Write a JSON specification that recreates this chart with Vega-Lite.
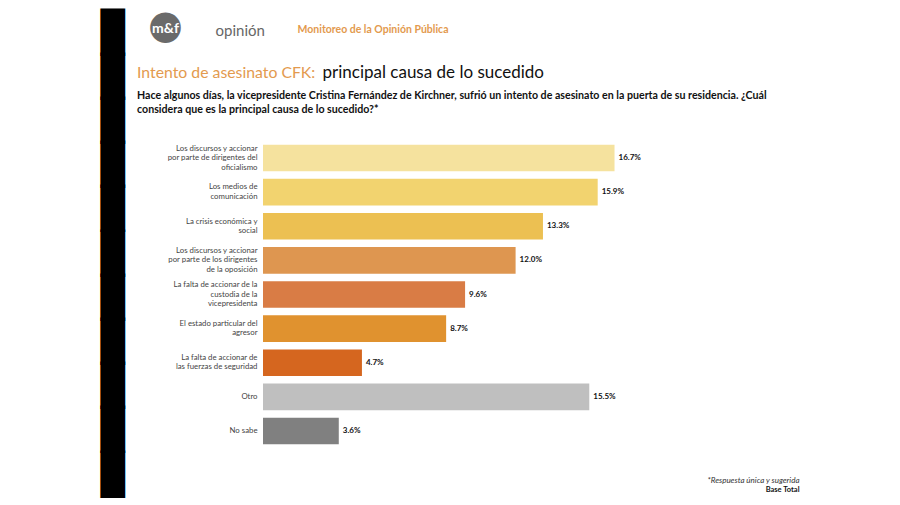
{
  "$schema": "https://vega.github.io/schema/vega-lite/v6.json",
  "width": 421,
  "height": 307,
  "autosize": {"type": "none"},
  "padding": {"left": 263, "top": 141, "right": 216, "bottom": 57},
  "background": "white",
  "config": {
    "view": {"stroke": null},
    "font": "Lato",
    "axis": {"grid": false, "ticks": false, "domain": false}
  },
  "title": {
    "text": "Intento de asesinato CFK:",
    "subtitle": [
      "Hace algunos días, la vicepresidente Cristina Fernández de Kirchner, sufrió un intento de asesinato en la puerta de su residencia. ¿Cuál",
      "considera que es la principal causa de lo sucedido?*"
    ],
    "anchor": "start",
    "frame": "group",
    "orient": "top",
    "dx": -126,
    "dy": 111,
    "offset": 0,
    "color": "#E39A4E",
    "font": "Lato",
    "fontSize": 15.8,
    "fontWeight": "normal",
    "subtitleFont": "Lato",
    "subtitleFontSize": 10.65,
    "subtitleFontWeight": "bold",
    "subtitleColor": "#111111",
    "subtitleLineHeight": 14,
    "subtitlePadding": 10
  },
  "data": {
    "values": [
      {"label": "Los discursos y accionar|por parte de dirigentes del|oficialismo", "share": 0.167, "grp": "causa"},
      {"label": "Los medios de|comunicación", "share": 0.159, "grp": "causa"},
      {"label": "La crisis económica y|social", "share": 0.133, "grp": "causa"},
      {"label": "Los discursos y accionar|por parte de los dirigentes|de la oposición", "share": 0.12, "grp": "causa"},
      {"label": "La falta de accionar de la|custodia de la|vicepresidenta", "share": 0.096, "grp": "causa"},
      {"label": "El estado particular del|agresor", "share": 0.087, "grp": "causa"},
      {"label": "La falta de accionar de|las fuerzas de seguridad", "share": 0.047, "grp": "causa"},
      {"label": "Otro", "share": 0.155, "grp": "otro"},
      {"label": "No sabe", "share": 0.036, "grp": "otro"}
    ]
  },
  "resolve": {"axis": {"x": "independent", "y": "independent"}},
  "layer": [
    {
      "transform": [{"filter": "datum.grp === 'causa'"}],
      "mark": {"type": "bar"},
      "encoding": {
        "y": {
          "field": "label", "type": "nominal", "sort": null,
          "scale": {
            "domain": [
              "Los discursos y accionar|por parte de dirigentes del|oficialismo",
              "Los medios de|comunicación",
              "La crisis económica y|social",
              "Los discursos y accionar|por parte de los dirigentes|de la oposición",
              "La falta de accionar de la|custodia de la|vicepresidenta",
              "El estado particular del|agresor",
              "La falta de accionar de|las fuerzas de seguridad",
              "Otro",
              "No sabe"
            ],
            "paddingInner": 0.22, "paddingOuter": 0.11
          },
          "axis": {
            "orient": "left",
            "labelExpr": "split(datum.value, '|')",
            "labelFontSize": 7.8,
            "labelColor": "#444444",
            "labelLineHeight": 9.5,
            "labelPadding": 6,
            "labelOffset": {"expr": "-(length(split(datum.value, '|')) - 1) * 4.75"},
            "title": "opinión",
            "titleAngle": 0,
            "titleX": -48,
            "titleY": -106,
            "titleAlign": "left",
            "titleBaseline": "alphabetic",
            "titleFontSize": 15,
            "titleFontWeight": "normal",
            "titleColor": "#666666"
          }
        },
        "x": {
          "field": "share", "type": "quantitative",
          "scale": {"domain": [0, 0.2], "nice": false},
          "axis": {
            "orient": "bottom", "labels": false,
            "title": "*Respuesta única y sugerida",
            "titleX": 536, "titleY": 34,
            "titleAlign": "right", "titleBaseline": "alphabetic",
            "titleFontSize": 8, "titleFontWeight": "normal", "titleFontStyle": "italic",
            "titleColor": "#333333"
          }
        },
        "color": {
          "field": "label", "type": "nominal", "legend": null,
          "scale": {
            "domain": [
              "Los discursos y accionar|por parte de dirigentes del|oficialismo",
              "Los medios de|comunicación",
              "La crisis económica y|social",
              "Los discursos y accionar|por parte de los dirigentes|de la oposición",
              "La falta de accionar de la|custodia de la|vicepresidenta",
              "El estado particular del|agresor",
              "La falta de accionar de|las fuerzas de seguridad",
              "Otro",
              "No sabe"
            ],
            "range": ["#F5E29E", "#F2D36F", "#ECC052", "#DE9650", "#D97C45", "#E0922F", "#D5661F", "#BFBFBF", "#808080"]
          }
        }
      }
    },
    {
      "transform": [{"filter": "datum.grp === 'otro'"}],
      "mark": {"type": "bar"},
      "encoding": {
        "y": {
          "field": "label", "type": "nominal", "sort": null,
          "axis": {
            "orient": "right", "labels": false,
            "title": "Base Total",
            "titleAngle": 0,
            "titleX": 115, "titleY": 350,
            "titleAlign": "right", "titleBaseline": "alphabetic",
            "titleFontSize": 7.5, "titleFontWeight": "bold",
            "titleColor": "#111111"
          }
        },
        "x": {
          "field": "share", "type": "quantitative",
          "axis": {
            "orient": "top", "labels": false,
            "title": "Monitoreo de la Opinión Pública",
            "titleX": 34, "titleY": -109,
            "titleAlign": "left", "titleBaseline": "alphabetic",
            "titleFontSize": 10.5, "titleFontWeight": "bold",
            "titleColor": "#E39A4E"
          }
        },
        "color": {"field": "label", "type": "nominal", "legend": null}
      }
    },
    {
      "transform": [{"filter": "datum.grp === 'causa'"}],
      "mark": {"type": "text", "align": "left", "baseline": "middle", "dx": 4, "fontSize": 8, "fontWeight": "bold", "color": "#111111"},
      "encoding": {
        "y": {
          "field": "label", "type": "nominal", "sort": null,
          "axis": {
            "orient": "left", "labels": false,
            "title": "●",
            "titleAngle": 0,
            "titleX": -98, "titleY": -104,
            "titleAlign": "center", "titleBaseline": "alphabetic",
            "titleFont": "DejaVu Sans",
            "titleFontSize": 40, "titleFontWeight": "normal",
            "titleColor": "#6a6a6a"
          }
        },
        "x": {
          "field": "share", "type": "quantitative",
          "axis": {
            "orient": "top", "labels": false,
            "title": "principal causa de lo sucedido",
            "titleX": 59, "titleY": -64,
            "titleAlign": "left", "titleBaseline": "alphabetic",
            "titleFontSize": 17, "titleFontWeight": "normal",
            "titleColor": "#111111"
          }
        },
        "text": {"field": "share", "type": "quantitative", "format": ".1%"}
      }
    },
    {
      "transform": [{"filter": "datum.grp === 'otro'"}],
      "mark": {"type": "text", "align": "left", "baseline": "middle", "dx": 4, "fontSize": 8, "fontWeight": "bold", "color": "#111111"},
      "encoding": {
        "y": {
          "field": "label", "type": "nominal", "sort": null,
          "axis": {
            "orient": "right", "labels": false,
            "title": "m&f",
            "titleAngle": 0,
            "titleX": -519, "titleY": -109,
            "titleAlign": "center", "titleBaseline": "alphabetic",
            "titleFontSize": 14, "titleFontWeight": "bold",
            "titleColor": "#ffffff"
          }
        },
        "x": {
          "field": "share", "type": "quantitative",
          "axis": {
            "orient": "bottom", "labels": false,
            "title": ["█", "█", "█", "█", "█", "█", "█", "█", "█", "█", "█"],
            "titleX": -163, "titleY": -403,
            "titleAlign": "left", "titleBaseline": "alphabetic",
            "titleFont": "DejaVu Sans Mono",
            "titleFontSize": 40, "titleLineHeight": 44.2, "titleFontWeight": "normal",
            "titleColor": "#000000"
          }
        },
        "text": {"field": "share", "type": "quantitative", "format": ".1%"}
      }
    }
  ]
}
